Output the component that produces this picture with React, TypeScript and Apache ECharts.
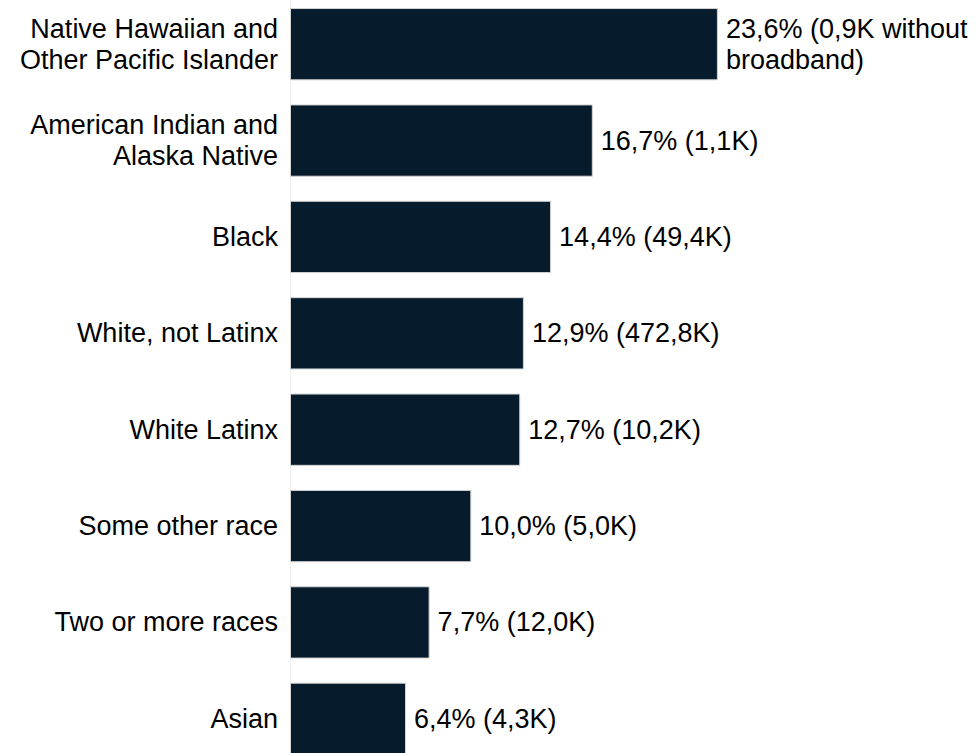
import React, { useEffect, useRef } from "react";
import * as echarts from "echarts";

const categories = [
  "Native Hawaiian and\nOther Pacific Islander",
  "American Indian and\nAlaska Native",
  "Black",
  "White, not Latinx",
  "White Latinx",
  "Some other race",
  "Two or more races",
  "Asian",
];
const percentValues = [23.6, 16.7, 14.4, 12.9, 12.7, 10.0, 7.7, 6.4];
const countLabels = [
  "0,9K without\nbroadband",
  "1,1K",
  "49,4K",
  "472,8K",
  "10,2K",
  "5,0K",
  "12,0K",
  "4,3K",
];

const FONT = "'Liberation Sans', Arial, Helvetica, sans-serif";

export default function App() {
  const ref = useRef<HTMLDivElement>(null);
  useEffect(() => {
    if (!ref.current) return;
    const chart = echarts.init(ref.current, undefined, { renderer: "svg" });
    chart.setOption({
      animation: false,
      backgroundColor: "#ffffff",
      grid: { left: 290, right: 1, top: 0, height: 771, containLabel: false },
      xAxis: {
        type: "value",
        min: 0,
        max: 38,
        show: false,
      },
      yAxis: {
        type: "category",
        inverse: true,
        data: categories,
        axisLine: { show: true, lineStyle: { color: "#f0f0f0", width: 1 } },
        axisTick: { show: false },
        splitLine: { show: false },
        axisLabel: {
          fontFamily: FONT,
          fontSize: 27,
          lineHeight: 31,
          color: "#000000",
          margin: 12,
        },
      },
      series: [
        {
          type: "bar",
          data: percentValues,
          barCategoryGap: "25%",
          itemStyle: { color: "#061b2c", borderColor: "#d4d4d4", borderWidth: 1 },
          label: {
            show: true,
            position: "right",
            distance: 8,
            fontFamily: FONT,
            fontSize: 27,
            lineHeight: 31,
            color: "#000000",
            formatter: (p: any) =>
              `${percentValues[p.dataIndex].toFixed(1).replace(".", ",")}% (${countLabels[p.dataIndex]})`,
          },
        },
      ],
    });
    return () => chart.dispose();
  }, []);
  return (
    <div
      ref={ref}
      style={{ position: "fixed", left: 0, top: -4, width: 980, height: 800 }}
    />
  );
}
